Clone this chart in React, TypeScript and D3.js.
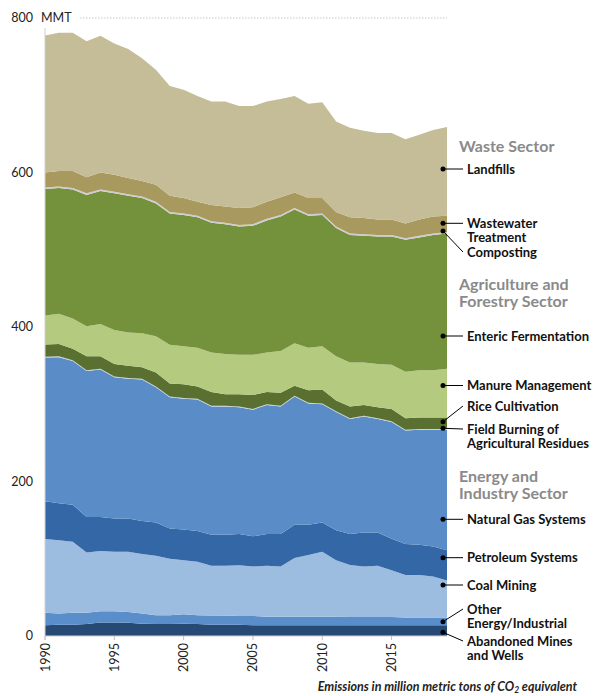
import React from 'react'
import * as d3 from 'd3'

const years = d3.range(1990, 2020)

// values in MMT CO2e (bottom layer first)
const abandonedMines = [14, 14.5, 14.5, 15.5, 17.5, 17.5, 17, 16, 15.5, 15.5, 16, 15.5, 14.5, 14.5, 14.5, 14, 14, 14, 14, 14, 14, 14, 14, 14, 14, 14, 14, 14, 14, 14]
const otherEnergy = [16, 14.5, 15.5, 14.5, 14.5, 14.5, 14, 13, 11.5, 11.5, 12, 11.5, 12, 12, 11.5, 12, 11, 11, 11, 11, 11, 11, 10.5, 10.5, 10.5, 10.5, 10, 10, 10, 10]
const coalMining = [95.5, 95, 92, 78, 78, 77, 78, 77, 77, 73, 70, 69, 64.5, 64.5, 65.5, 64, 66, 65, 76, 80, 84, 73, 67.5, 65.5, 66.5, 60.5, 55, 55, 53, 48]
const petroleum = [49, 48, 48, 46, 44, 43, 43, 43, 43, 39, 40, 40, 40, 40, 40.5, 39, 41, 42, 43, 39, 38, 39, 40, 44, 43, 41, 40, 39, 39, 39]
const naturalGas = [186, 189, 186, 189, 191, 183, 181, 183, 175, 170, 169, 170, 166, 166, 164, 164, 167, 165, 166, 157, 153, 153, 149, 150, 147, 151, 147, 149, 151, 156]
const fieldBurning = [1, 1, 1, 1, 1, 1, 1, 1, 1, 1, 1, 1, 1, 1, 1, 1, 1, 1, 1, 1, 1, 1, 1, 1, 1, 1, 1, 1, 1, 1]
const riceCultivation = [16, 16, 15, 18, 16, 16, 16, 15, 18, 17, 18, 16, 18, 15, 16, 18, 16, 17, 13, 16, 18, 14, 15, 14, 14, 16, 15, 15, 15, 15]
const manure = [37.5, 39, 39, 39, 42, 44, 43, 44, 47, 50, 49, 50, 51, 52, 51, 52, 51, 54, 55, 55, 56, 57, 57, 55, 56, 57, 60, 61, 61, 63]
const enteric = [163.5, 163, 167, 170, 172, 177, 177, 175, 172, 170, 170, 169, 168, 168, 166, 167, 171, 174, 173, 171, 170, 166, 165, 164, 165, 166, 171, 172, 175, 175]
const composting = [2, 2, 2, 2, 2, 2, 2, 2, 2, 2, 2, 2, 2, 2, 2, 2, 2, 2, 2, 2, 2, 2, 2, 2, 2, 2, 2, 2, 2, 2]
const wastewater = [19.5, 20, 22, 21, 22, 22, 21, 20, 22, 21, 20, 18, 21, 21, 22, 22, 22, 23, 20, 21, 20, 19, 21, 21, 20, 20, 19, 21, 22, 21]
const landfills = [177.5, 179, 179, 176, 177, 170, 167, 159, 149, 142, 140, 137, 134, 136, 132, 131, 130, 127, 125, 122, 124, 117, 116, 113, 112, 112, 109, 110, 112, 115]

const seriesKeys = ['abandoned', 'other', 'coal', 'petroleum', 'gas', 'burning', 'rice', 'manure', 'enteric', 'composting', 'wastewater', 'landfills']
const seriesValues = [abandonedMines, otherEnergy, coalMining, petroleum, naturalGas, fieldBurning, riceCultivation, manure, enteric, composting, wastewater, landfills]
const seriesColors = ['#264a74', '#5a8ecb', '#9dbde0', '#3467a5', '#5a8dc8', '#c9cfd6', '#5a7030', '#b3ca7f', '#74913b', '#cfcbd6', '#a89a5e', '#c5bd98']

const yTicks = [0, 200, 400, 600, 800]
const xTicks = [1990, 1995, 2000, 2005, 2010, 2015]

// right-hand annotations: dot y and label y are layout positions (px)
const labels: { key: string; lines: string[]; dot: number; y: number }[] = [
  { key: 'landfills', lines: ['Landfills'], dot: 169, y: 169 },
  { key: 'wastewater', lines: ['Wastewater', 'Treatment'], dot: 223.3, y: 223.3 },
  { key: 'composting', lines: ['Composting'], dot: 231, y: 252 },
  { key: 'enteric', lines: ['Enteric Fermentation'], dot: 336, y: 336 },
  { key: 'manure', lines: ['Manure Management'], dot: 385.5, y: 385.5 },
  { key: 'rice', lines: ['Rice Cultivation'], dot: 421.7, y: 406 },
  { key: 'burning', lines: ['Field Burning of', 'Agricultural Residues'], dot: 428.3, y: 429 },
  { key: 'gas', lines: ['Natural Gas Systems'], dot: 519.3, y: 519.3 },
  { key: 'petroleum', lines: ['Petroleum Systems'], dot: 557.7, y: 557.7 },
  { key: 'coal', lines: ['Coal Mining'], dot: 585, y: 585 },
  { key: 'other', lines: ['Other', 'Energy/Industrial'], dot: 621.7, y: 609 },
  { key: 'abandoned', lines: ['Abandoned Mines', 'and Wells'], dot: 632.3, y: 641 },
]

const sectors = [
  { lines: ['Waste Sector'], y: 146 },
  { lines: ['Agriculture and', 'Forestry Sector'], y: 284.3 },
  { lines: ['Energy and', 'Industry Sector'], y: 476.5 },
]

export default function App() {
  const width = 600
  const height = 696
  const x = d3.scaleLinear().domain([1990, 2019]).range([45, 447])
  const y = d3.scaleLinear().domain([0, 800]).range([636, 18])

  const table = years.map((yr, i) => {
    const row: any = { year: yr }
    seriesKeys.forEach((k, j) => { row[k] = seriesValues[j][i] })
    return row
  })
  const stacked = d3.stack().keys(seriesKeys)(table)
  const area = d3.area<any>()
    .x((d) => x(d.data.year))
    .y0((d) => y(d[0]))
    .y1((d) => y(d[1]))

  const font = 'Lato, "Open Sans", sans-serif'
  const dotX = x(2019) - 4
  const lineEnd = 463

  return (
    <svg width={width} height={height} style={{ position: 'absolute', left: 0, top: 0 }}>
      <line x1={80} x2={447} y1={y(800)} y2={y(800)} stroke="#c8c8c8" strokeDasharray="1.5,1.5" />
      {stacked.map((s, i) => (
        <path key={s.key} d={area(s) || ''} fill={seriesColors[i]} />
      ))}
      <line x1={45} x2={45} y1={y(800) + 10} y2={y(0) + 4} stroke="#d0d0d0" />
      <line x1={45} x2={447} y1={y(0)} y2={y(0)} stroke="#d0d0d0" />
      {xTicks.map((t) => (
        <g key={t}>
          <line x1={x(t)} x2={x(t)} y1={y(0)} y2={y(0) + 4} stroke="#c0c0c0" />
          <text transform={`translate(${x(t) + 4.5},${y(0) + 7}) rotate(-90)`} textAnchor="end"
            fontFamily={font} fontSize={12.5} fill="#222">{t}</text>
        </g>
      ))}
      {yTicks.map((t) => (
        <text key={t} x={33} y={y(t)} dy="0.35em" textAnchor="end" fontFamily={font} fontSize={12.5} fill="#222">{t}</text>
      ))}
      <text x={41} y={y(800)} dy="0.35em" fontFamily={font} fontSize={12.5} fill="#222">MMT</text>

      {sectors.map((s, i) => (
        <text key={i} x={459} y={s.y} fontFamily={font} fontSize={16} fontWeight={700} fill="#8a8a8a">
          {s.lines.map((l, j) => (
            <tspan key={j} x={459} y={s.y + j * 17} dy="0.35em">{l}</tspan>
          ))}
        </text>
      ))}

      {labels.map((lb) => (
        <g key={lb.key}>
          <line x1={dotX} y1={lb.dot} x2={lineEnd} y2={lb.y} stroke="#000" strokeWidth={1} />
          <circle cx={dotX} cy={lb.dot} r={2.5} fill="#000" />
          <text x={467} y={lb.y} fontFamily={font} fontSize={13} fontWeight={700} fill="#111">
            {lb.lines.map((l, j) => (
              <tspan key={j} x={467} y={lb.y + j * 14} dy="0.35em">{l}</tspan>
            ))}
          </text>
        </g>
      ))}

      <text x={577} y={691} textAnchor="end" fontFamily={font} fontSize={12.5} fontStyle="italic" fontWeight={700} fill="#222">
        Emissions in million metric tons of CO<tspan fontSize={8.5} dy="2">2</tspan><tspan dy="-2"> equivalent</tspan>
      </text>
    </svg>
  )
}
